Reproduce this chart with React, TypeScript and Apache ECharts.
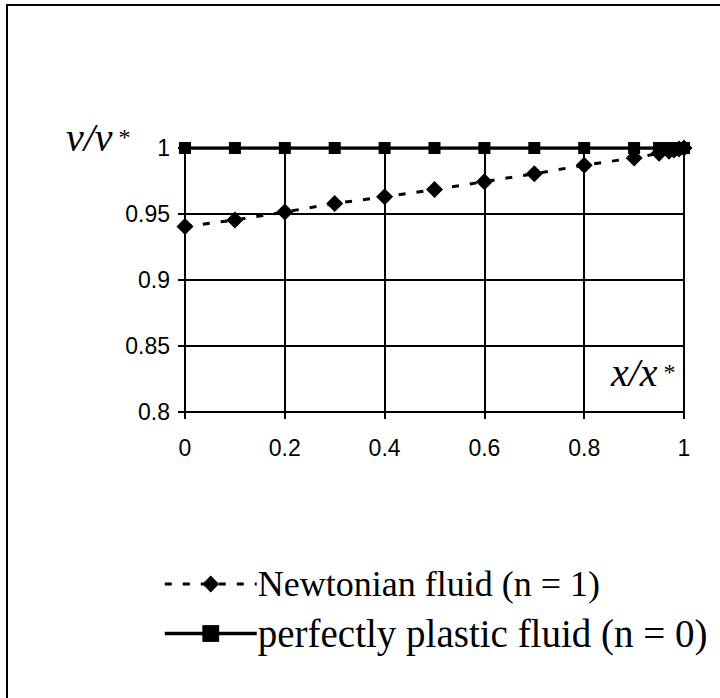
import React, { useEffect, useRef } from "react";
import * as echarts from "echarts";

const xValues = [0, 0.1, 0.2, 0.3, 0.4, 0.5, 0.6, 0.7, 0.8, 0.9, 0.95, 0.97, 0.98, 0.99, 1.0];
const newtonian = [0.9405, 0.9455, 0.9515, 0.958, 0.963, 0.9685, 0.9745, 0.9805, 0.987, 0.9925, 0.996, 0.9975, 0.9985, 0.9993, 1.0];
const plastic = [1, 1, 1, 1, 1, 1, 1, 1, 1, 1, 1, 1, 1, 1, 1];
const seriesNames = ["Newtonian fluid (n = 1)", "perfectly plastic fluid (n = 0)"];

export default function App() {
  const ref = useRef<HTMLDivElement>(null);
  useEffect(() => {
    if (!ref.current) return;
    const chart = echarts.init(ref.current, null, { renderer: "svg" });
    const serif = "Liberation Serif";
    const sans = "Liberation Sans";
    chart.setOption({
      animation: false,
      backgroundColor: "#fff",
      grid: { left: 185, top: 148, width: 499, height: 264, containLabel: false },
      xAxis: {
        type: "value",
        min: 0,
        max: 1,
        interval: 0.2,
        axisLine: { show: true, onZero: false, lineStyle: { color: "#000", width: 2 } },
        axisTick: { show: true, inside: false, length: 7, lineStyle: { color: "#000", width: 2 } },
        axisLabel: { color: "#000", fontFamily: sans, fontSize: 23, margin: 24 },
        splitLine: { show: true, lineStyle: { color: "#000", width: 2 } },
      },
      yAxis: {
        type: "value",
        min: 0.8,
        max: 1,
        interval: 0.05,
        axisLine: { show: true, lineStyle: { color: "#000", width: 2 } },
        axisTick: { show: true, inside: false, length: 7, lineStyle: { color: "#000", width: 2 } },
        axisLabel: {
          color: "#000",
          fontFamily: sans,
          fontSize: 23,
          margin: 15,
          formatter: (v: number) => String(parseFloat(v.toFixed(2))),
        },
        splitLine: { show: true, lineStyle: { color: "#000", width: 2 } },
      },
      legend: {
        orient: "vertical",
        left: 158,
        top: 561,
        itemWidth: 92,
        itemHeight: 21,
        itemGap: 12,
        formatter: (name: string) => (name === seriesNames[1] ? `{b|${name}}` : `{a|${name}}`),
        textStyle: {
          color: "#000",
          fontFamily: serif,
          fontSize: 36,
          padding: [0, 0, 0, -4],
          rich: {
            a: { fontFamily: serif, fontSize: 36, color: "#000" },
            b: { fontFamily: serif, fontSize: 39, color: "#000" },
          },
        },
        data: [
          { name: seriesNames[0], lineStyle: { width: 3, type: [7, 11], color: "#000" } },
          { name: seriesNames[1], lineStyle: { width: 3.5, type: "solid", color: "#000" } },
        ],
      },
      series: [
        {
          name: seriesNames[0],
          type: "line",
          data: xValues.map((x, i) => [x, newtonian[i]]),
          symbol: "diamond",
          symbolSize: 17,
          itemStyle: { color: "#000" },
          lineStyle: { color: "#000", width: 3, type: [7, 11] },
          z: 3,
        },
        {
          name: seriesNames[1],
          type: "line",
          data: xValues.map((x, i) => [x, plastic[i]]),
          symbol: "rect",
          symbolSize: 12,
          itemStyle: { color: "#000" },
          lineStyle: { color: "#000", width: 3.5, type: "solid" },
          z: 2,
        },
      ],
      graphic: [
        {
          type: "rect",
          shape: { x: 7, y: 5, width: 740, height: 720 },
          style: { fill: "none", stroke: "#000", lineWidth: 2 },
          silent: true,
        },
        {
          type: "text",
          x: 66,
          y: 137,
          style: {
            text: "{a|v/v}{b| *}",
            verticalAlign: "middle",
            rich: {
              a: { fontFamily: serif, fontStyle: "italic", fontSize: 40, fill: "#000" },
              b: { fontFamily: serif, fontSize: 24, fill: "#000" },
            },
          },
        },
        {
          type: "text",
          x: 611,
          y: 372,
          style: {
            text: "{a|x/x}{b| *}",
            verticalAlign: "middle",
            rich: {
              a: { fontFamily: serif, fontStyle: "italic", fontSize: 40, fill: "#000" },
              b: { fontFamily: serif, fontSize: 24, fill: "#000" },
            },
          },
        },
      ],
    });
    return () => chart.dispose();
  }, []);
  return (
    <div
      ref={ref}
      style={{ position: "fixed", left: 0, top: 0, width: 720, height: 698 }}
    />
  );
}
